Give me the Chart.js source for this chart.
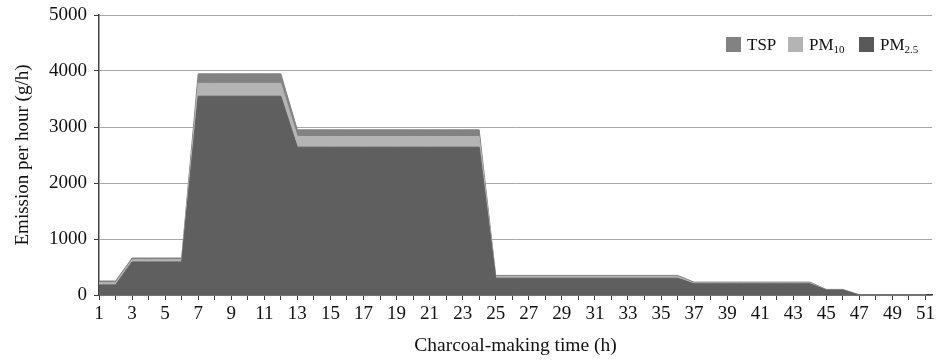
<!DOCTYPE html>
<html>
<head>
<meta charset="utf-8">
<script src="https://cdn.jsdelivr.net/npm/chart.js@4.4.1/dist/chart.umd.min.js"></script>
<style>
html,body{margin:0;padding:0;background:#fff;}
#wrap{position:relative;width:938px;height:363px;}
#legend{position:absolute;left:0;top:0;font-family:"Liberation Serif",serif;font-size:17px;color:#111;}
.item{position:absolute;top:36px;height:18px;line-height:18px;white-space:nowrap;}
.item i{display:inline-block;width:15px;height:15px;vertical-align:-2px;margin-right:6px;}
sub{font-size:11px;vertical-align:-3px;line-height:0;}
</style>
</head>
<body>
<div id="wrap">
<canvas id="c" width="938" height="363"></canvas>
<div id="legend">
  <div class="item" style="left:726px"><i style="background:#828282"></i>TSP</div>
  <div class="item" style="left:788px"><i style="background:#b4b4b4"></i>PM<sub>10</sub></div>
  <div class="item" style="left:859px"><i style="background:#595959"></i>PM<sub>2.5</sub></div>
</div>
</div>
<script>
// charcoal-making time (h)
const hours = [1,2,3,4,5,6,7,8,9,10,11,12,13,14,15,16,17,18,19,20,21,22,23,24,25,26,27,28,29,30,31,32,33,34,35,36,37,38,39,40,41,42,43,44,45,46,47,48,49,50,51];
// emission per hour (g/h)
const tsp  = [250,250,660,660,660,660,3950,3950,3950,3950,3950,3950,2950,2950,2950,2950,2950,2950,2950,2950,2950,2950,2950,2950,350,350,350,350,350,350,350,350,350,350,350,350,230,230,230,230,230,230,230,230,100,100,0,0,0,0,0];
const pm10 = [220,220,630,630,630,630,3780,3780,3780,3780,3780,3780,2830,2830,2830,2830,2830,2830,2830,2830,2830,2830,2830,2830,330,330,330,330,330,330,330,330,330,330,330,330,215,215,215,215,215,215,215,215,95,95,0,0,0,0,0];
const pm25 = [180,180,590,590,590,590,3550,3550,3550,3550,3550,3550,2640,2640,2640,2640,2640,2640,2640,2640,2640,2640,2640,2640,300,300,300,300,300,300,300,300,300,300,300,300,200,200,200,200,200,200,200,200,90,90,0,0,0,0,0];
const yTicks = [0,1000,2000,3000,4000,5000];

const pts = arr => arr.map((v,i)=>({x:hours[i], y:v}));
const font = {family:'"Liberation Serif", serif', size:19};
const titleFont = {family:'"Liberation Serif", serif', size:19.5};

function area(label, arr, color){
  return {label, data:pts(arr), backgroundColor:color, borderColor:color, borderWidth:1,
    fill:'origin', pointRadius:0, tension:0};
}

new Chart(document.getElementById('c'), {
  type:'line',
  data:{ datasets:[
    area('PM2.5', pm25, '#5f5f5f'),
    area('PM10', pm10, '#b4b4b4'),
    area('TSP', tsp, '#828282')
  ]},
  options:{
    responsive:false, animation:false,
    layout:{padding:{top:15,right:2,left:0,bottom:0}},
    plugins:{legend:{display:false}, tooltip:{enabled:false}},
    scales:{
      x:{
        type:'linear', min:1, max:51.4,
        afterFit: s => { s.height = 68; },
        border:{color:'#404040', width:1.5},
        grid:{drawOnChartArea:false, tickLength:5, tickColor:'#404040'},
        ticks:{stepSize:1, autoSkip:false, maxRotation:0, includeBounds:false, padding:3, color:'#111', font,
          callback: v => (Number.isInteger(v) && v % 2 === 1) ? String(v) : ''},
        title:{display:true, text:'Charcoal-making time (h)', color:'#111', font:titleFont, padding:{top:0,bottom:5}}
      },
      y:{
        min:0, max:5000,
        afterFit: s => { s.width = 99; s.paddingTop = 0; s.paddingBottom = 0; },
        afterBuildTicks: s => { s.ticks = yTicks.map(v=>({value:v})); },
        border:{color:'#404040', width:1.5},
        grid:{color:'#a8a8a8', lineWidth:1, tickLength:5, tickColor:'#404040'},
        ticks:{padding:7, color:'#111', font, callback: v => String(v)},
        title:{display:true, text:'Emission per hour (g/h)', color:'#111', font, padding:{top:12,bottom:0}}
      }
    }
  }
});
</script>
</body>
</html>
